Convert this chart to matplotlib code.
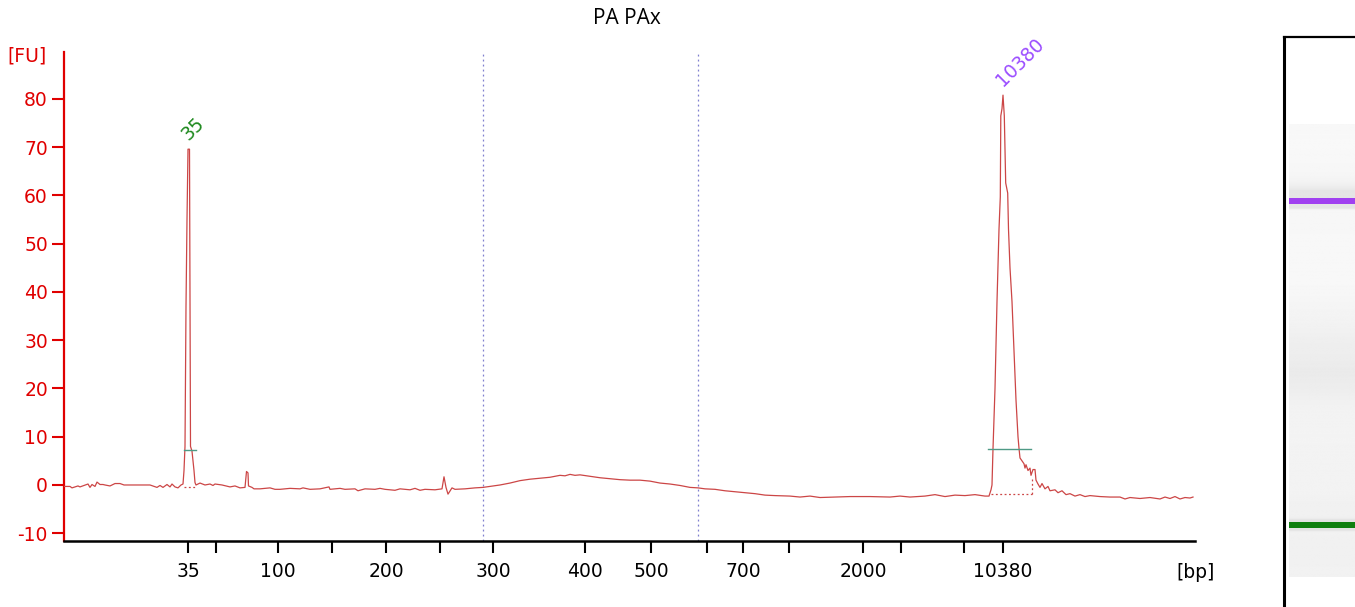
import numpy as np
import matplotlib
matplotlib.use("Agg")
import matplotlib.pyplot as plt

# ---------------- data ----------------
# migration position (arbitrary units along the run) and fluorescence [FU]
migration = [64, 70, 72, 78, 80, 88, 90, 92, 95, 97, 100, 103, 105, 110, 115, 120, 124, 130,
             140, 150, 157, 160, 163, 167, 170, 172, 175, 178, 181, 183,
             184, 185, 186, 187, 188, 189.5, 190, 190.5, 192, 194, 195, 196,
             200, 205, 210, 213, 215, 222, 230, 235, 240, 245, 246.5, 248, 248.5, 252, 254,
             260, 270, 275, 280, 290, 300, 303, 310, 320, 329, 330, 340, 345, 355, 358, 365,
             375, 380, 385, 395, 400, 410, 415, 420, 425, 435, 442, 444, 446, 448, 452, 455,
             465, 475, 483, 490, 500, 510, 520, 530, 540, 550, 560, 565, 570, 575, 580, 590,
             600, 610, 620, 630, 640, 650, 660, 670, 680, 690, 698, 705, 715, 725, 735, 745,
             755, 765, 775, 790, 800, 810, 820, 835, 850, 870, 890, 900, 910, 925, 935, 945,
             955, 965, 975, 985, 989, 991, 992, 993, 995, 997, 999, 1000.3, 1000.8, 1002,
             1003, 1004.3, 1005.7, 1007.7, 1008.5, 1010, 1012, 1014, 1016, 1018, 1019, 1020,
             1022, 1024, 1025, 1026, 1028, 1030, 1031, 1033, 1035, 1036, 1038, 1040, 1042,
             1045, 1048, 1050, 1055, 1058, 1062, 1066, 1070, 1075, 1080, 1085, 1090, 1100,
             1110, 1120, 1125, 1130, 1140, 1150, 1160, 1165, 1170, 1175, 1180, 1185, 1190, 1193]
fu = [-0.3, -0.3, -0.6, -0.2, -0.4, 0.2, -0.5, 0.1, -0.3, 0.6, 0.1, 0.1, 0.0, -0.2, 0.3, 0.3, 0.0, 0.0,
      0.0, 0.0, -0.5, -0.1, -0.5, 0.1, -0.4, 0.2, -0.4, -0.6, 0.0, 0.2,
      3.0, 8.0, 37.0, 55.0, 69.6, 69.6, 40.0, 8.0, 7.0, 3.0, 0.5, 0.0,
      0.4, 0.0, 0.2, -0.1, 0.2, 0.0, -0.4, -0.2, -0.6, -0.5, 2.8, 2.5, -0.2, -0.5, -0.8,
      -0.8, -0.6, -0.9, -0.9, -0.7, -0.8, -0.6, -0.9, -0.8, -0.4, -0.9, -0.7, -0.9, -0.8, -1.2, -0.8,
      -0.9, -0.7, -0.9, -1.1, -0.8, -1.0, -0.7, -1.1, -0.9, -1.0, -0.8, 1.7, -0.5, -1.9, -0.6, -0.9,
      -0.8, -0.6, -0.5, -0.3, 0.0, 0.4, 0.9, 1.2, 1.4, 1.6, 2.0, 1.9, 2.2, 2.0, 2.1, 1.8,
      1.5, 1.3, 1.1, 1.0, 1.0, 0.8, 0.4, 0.2, -0.1, -0.5, -0.6, -0.8, -0.9, -1.2, -1.4, -1.6,
      -1.8, -2.1, -2.2, -2.3, -2.5, -2.3, -2.6, -2.5, -2.4, -2.4, -2.5, -2.3, -2.5, -2.3, -2.0, -2.4,
      -2.1, -2.2, -2.0, -2.3, -2.3, -1.0, 0.0, 7.5, 20.0, 38.0, 53.0, 59.7, 76.5, 78.0,
      80.8, 76.5, 62.6, 60.5, 53.0, 45.0, 38.0, 28.0, 17.6, 10.0, 7.6, 5.6,
      5.0, 4.4, 3.5, 4.2, 3.0, 3.5, 2.0, 3.2, 3.2, 1.0, 0.2, -0.5, 0.3,
      -0.8, -0.3, -1.2, -1.0, -1.6, -1.2, -2.0, -1.8, -2.3, -2.0, -2.4, -2.2, -2.4,
      -2.5, -2.5, -2.9, -2.6, -2.8, -2.6, -2.9, -2.5, -2.8, -2.4, -2.9, -2.6, -2.7, -2.5]

# size ladder on the x axis
tick_pos = [188, 216, 278, 332, 386, 440, 493, 585, 651, 707, 743, 789, 863, 901, 964, 1003]
tick_labels = ["35", "", "100", "", "200", "", "300", "400", "500", "", "700", "", "2000", "", "", "10380"]

# region boundaries (dotted)
region_bounds = [483, 698]

# marker peaks
marker_labels = ["35", "10380"]
marker_pos = [188.8, 1003]
marker_top = [69.6, 80.8]
marker_colors = ["#1f8a1f", "#9b4dff"]
band_colors = ["#108010", "#a040f0"]
half_height = [7.2, 7.5]
half_start = [184, 988]
half_end = [196, 1030.7]
base_start = [184, 990.5]
base_end = [196, 1031.7]
base_level = [-0.35, -1.9]
base_end_top = [-0.35, 1.7]

# ---------------- figure ----------------
W, H = 1355, 607
FS = 13.5
fig = plt.figure(figsize=(W / 100, H / 100), dpi=100)
fig.patch.set_facecolor("white")

ax = fig.add_axes([64 / W, (H - 541) / H, (1195 - 64) / W, (541 - 52) / H])
ax.set_xlim(64, 1195)
ax.set_ylim(-11.61, 89.74)

trace_color = "#cc4646"
ax.plot(migration, fu, color=trace_color, lw=0.9, zorder=3)

for xb in region_bounds:
    ax.axvline(xb, color="#7f7fcf", lw=0.9, ls=(0, (1.5, 2.5)), zorder=1)

for i in range(len(marker_labels)):
    ax.plot([half_start[i], half_end[i]], [half_height[i], half_height[i]],
            color="#4f9a86", lw=1.0, zorder=4)
    ax.plot([base_start[i], base_end[i]], [base_level[i], base_level[i]],
            color=trace_color, lw=0.9, ls=(0, (1.5, 2)), zorder=2)
    if base_end_top[i] != base_level[i]:
        ax.plot([base_end[i], base_end[i]], [base_level[i], base_end_top[i]],
                color=trace_color, lw=0.9, ls=(0, (1.5, 2)), zorder=2)
    ax.annotate(marker_labels[i], xy=(marker_pos[i], marker_top[i]),
                xytext=(0.0, 6.0), textcoords="offset points",
                rotation=45, rotation_mode="anchor", ha="left", va="baseline",
                color=marker_colors[i], fontsize=FS)

for s in ["top", "right"]:
    ax.spines[s].set_visible(False)
ax.spines["left"].set_color("#e00000")
ax.spines["left"].set_linewidth(1.6)
ax.spines["bottom"].set_color("black")
ax.spines["bottom"].set_linewidth(1.8)

ax.set_yticks(np.arange(-10, 81, 10))
ax.set_yticklabels([str(v) for v in range(-10, 81, 10)])
ax.tick_params(axis="y", colors="#e00000", length=8.6, width=1.5, pad=3.0, labelsize=FS)
ax.set_xticks(tick_pos)
ax.set_xticklabels(tick_labels)
ax.tick_params(axis="x", colors="black", length=8.6, width=1.5, pad=6.5, labelsize=FS)

fig.text(47 / W, 1 - 56 / H, "[FU]", color="#e00000", fontsize=FS, ha="right", va="center")
fig.text(1196 / W, 1 - 573 / H, "[bp]", color="black", fontsize=FS, ha="center", va="center")
fig.text(627 / W, 1 - 18 / H, "PA PAx", color="black", fontsize=15, ha="center", va="center",
         family=["Open Sans", "DejaVu Sans"])

# ---------------- gel lane ----------------
gel_top_px, gel_bottom_px = 37, H
gax = fig.add_axes([1284 / W, 0, (W - 1284) / W + 0.01, (gel_bottom_px - gel_top_px) / H])
# map marker positions to their band rows in the lane
f_lo = (H - 525) / (gel_bottom_px - gel_top_px)
f_hi = (H - 201) / (gel_bottom_px - gel_top_px)
slope = (marker_pos[1] - marker_pos[0]) / (f_hi - f_lo)
y0 = marker_pos[0] - f_lo * slope
gax.set_ylim(y0, y0 + slope)
gax.set_xlim(0, 1)

lane_lo = marker_pos[0] - (577 - 525) * (marker_pos[1] - marker_pos[0]) / (525 - 201)
grid = np.linspace(lane_lo, 1195, 600)
trace_i = np.interp(grid, migration, fu, left=fu[0], right=fu[-1])
kernel = np.ones(15) / 15
smooth = np.convolve(np.pad(trace_i, 7, mode="edge"), kernel, mode="valid")
shade = 0.975 - 0.011 * np.clip(smooth - min(fu), 0, 7)
img = np.repeat(shade[:, None], 2, axis=1)
gax.imshow(img, cmap="gray", vmin=0, vmax=1, aspect="auto", origin="lower",
           extent=[0.056, 1.0, lane_lo, 1195], interpolation="bilinear", zorder=1)
for i in range(len(marker_pos)):
    gax.axhspan(marker_pos[i] - 7.5, marker_pos[i] + 7.5, xmin=0.056, xmax=1.0,
                color=band_colors[i], lw=0, zorder=2)
gax.set_xticks([])
gax.set_yticks([])
for s in ["right", "bottom"]:
    gax.spines[s].set_visible(False)
gax.spines["left"].set_linewidth(2.2)
gax.spines["top"].set_linewidth(1.6)

fig.savefig("out.png", dpi=100, facecolor="white")
